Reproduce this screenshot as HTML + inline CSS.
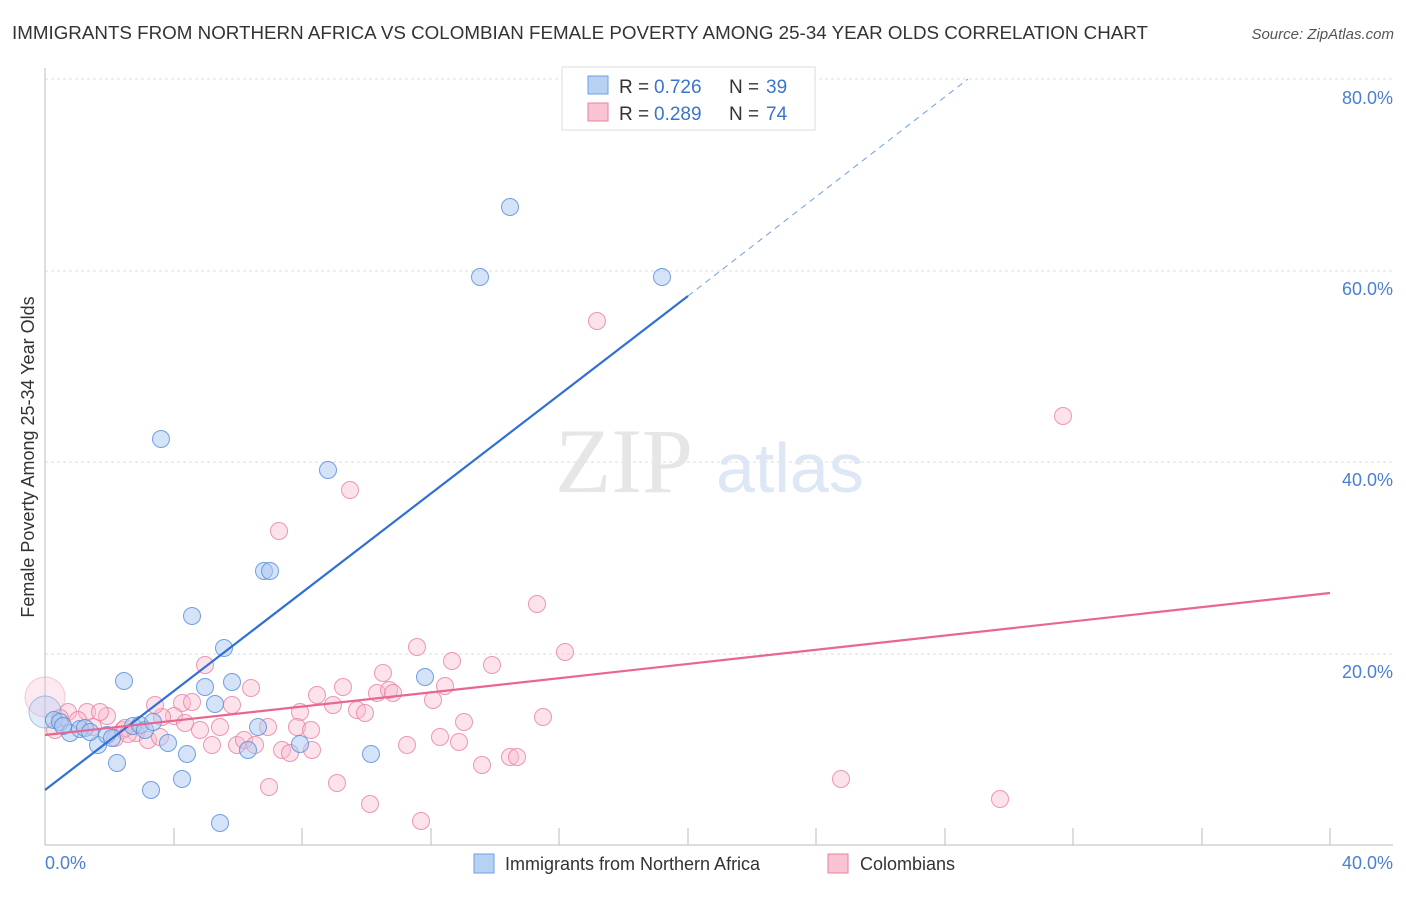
<!DOCTYPE html>
<html><head><meta charset="utf-8"><style>
body{margin:0;background:#fff;width:1406px;height:892px;overflow:hidden;font-family:"Liberation Sans",sans-serif}
</style></head><body>
<svg width="1406" height="892" xmlns="http://www.w3.org/2000/svg" font-family="Liberation Sans, sans-serif">
<text x="12" y="39" font-size="18" fill="#333" textLength="1136" lengthAdjust="spacingAndGlyphs">IMMIGRANTS FROM NORTHERN AFRICA VS COLOMBIAN FEMALE POVERTY AMONG 25-34 YEAR OLDS CORRELATION CHART</text>
<text x="1394" y="39" font-size="15" fill="#555" font-style="italic" text-anchor="end">Source: ZipAtlas.com</text>
<g stroke="#ddd" stroke-dasharray="3,3"><line x1="45" y1="79" x2="1393" y2="79"/><line x1="45" y1="271" x2="1393" y2="271"/><line x1="45" y1="462" x2="1393" y2="462"/><line x1="45" y1="654" x2="1393" y2="654"/></g>
<g stroke="#bbb"><line x1="45" y1="68" x2="45" y2="845"/><line x1="45" y1="845" x2="1393" y2="845"/>
<line x1="174" y1="828" x2="174" y2="845"/><line x1="302" y1="828" x2="302" y2="845"/><line x1="431" y1="828" x2="431" y2="845"/><line x1="559" y1="828" x2="559" y2="845"/><line x1="688" y1="828" x2="688" y2="845"/><line x1="816" y1="828" x2="816" y2="845"/><line x1="945" y1="828" x2="945" y2="845"/><line x1="1073" y1="828" x2="1073" y2="845"/><line x1="1202" y1="828" x2="1202" y2="845"/><line x1="1330" y1="828" x2="1330" y2="845"/></g>
<g font-size="18" fill="#4a7fd4" text-anchor="end"><text x="1393" y="104">80.0%</text><text x="1393" y="295">60.0%</text><text x="1393" y="486">40.0%</text><text x="1393" y="678">20.0%</text></g>
<text x="45" y="869" font-size="18" fill="#4a7fd4">0.0%</text><text x="1393" y="869" font-size="18" fill="#4a7fd4" text-anchor="end">40.0%</text>
<text transform="translate(34,457) rotate(-90)" font-size="18" fill="#333" text-anchor="middle">Female Poverty Among 25-34 Year Olds</text>
<text x="555" y="492" font-size="92" fill="#e6e6e6" font-family="Liberation Serif, serif">ZIP</text><text x="716" y="492" font-size="70" fill="#dde7f5">atlas</text>
<g fill="#f7b8cc" fill-opacity="0.4" stroke="#e87fa0" stroke-opacity="0.8" stroke-width="1">
<circle cx="45" cy="697" r="20" fill-opacity="0.3" stroke-opacity="0.4"/>
<circle cx="597" cy="321" r="8.5"/><circle cx="1063" cy="416" r="8.5"/><circle cx="350" cy="490" r="8.5"/><circle cx="279" cy="531" r="8.5"/><circle cx="537" cy="604" r="8.5"/><circle cx="565" cy="652" r="8.5"/><circle cx="417" cy="647" r="8.5"/><circle cx="452" cy="661" r="8.5"/><circle cx="492" cy="665" r="8.5"/><circle cx="383" cy="673" r="8.5"/><circle cx="205" cy="665" r="8.5"/><circle cx="251" cy="688" r="8.5"/><circle cx="317" cy="695" r="8.5"/><circle cx="343" cy="687" r="8.5"/><circle cx="377" cy="693" r="8.5"/><circle cx="389" cy="690" r="8.5"/><circle cx="393" cy="693" r="8.5"/><circle cx="445" cy="686" r="8.5"/><circle cx="433" cy="700" r="8.5"/><circle cx="543" cy="717" r="8.5"/><circle cx="464" cy="722" r="8.5"/><circle cx="440" cy="737" r="8.5"/><circle cx="459" cy="742" r="8.5"/><circle cx="510" cy="757" r="8.5"/><circle cx="482" cy="765" r="8.5"/><circle cx="407" cy="745" r="8.5"/><circle cx="300" cy="712" r="8.5"/><circle cx="333" cy="705" r="8.5"/><circle cx="357" cy="710" r="8.5"/><circle cx="365" cy="713" r="8.5"/><circle cx="268" cy="727" r="8.5"/><circle cx="232" cy="705" r="8.5"/><circle cx="220" cy="727" r="8.5"/><circle cx="182" cy="703" r="8.5"/><circle cx="192" cy="702" r="8.5"/><circle cx="174" cy="716" r="8.5"/><circle cx="162" cy="717" r="8.5"/><circle cx="155" cy="705" r="8.5"/><circle cx="107" cy="716" r="8.5"/><circle cx="87" cy="712" r="8.5"/><circle cx="100" cy="712" r="8.5"/><circle cx="68" cy="712" r="8.5"/><circle cx="78" cy="720" r="8.5"/><circle cx="93" cy="727" r="8.5"/><circle cx="123" cy="730" r="8.5"/><circle cx="136" cy="733" r="8.5"/><circle cx="148" cy="740" r="8.5"/><circle cx="212" cy="745" r="8.5"/><circle cx="237" cy="745" r="8.5"/><circle cx="244" cy="740" r="8.5"/><circle cx="255" cy="745" r="8.5"/><circle cx="282" cy="750" r="8.5"/><circle cx="290" cy="753" r="8.5"/><circle cx="312" cy="750" r="8.5"/><circle cx="297" cy="727" r="8.5"/><circle cx="311" cy="730" r="8.5"/><circle cx="269" cy="787" r="8.5"/><circle cx="337" cy="783" r="8.5"/><circle cx="370" cy="804" r="8.5"/><circle cx="421" cy="821" r="8.5"/><circle cx="841" cy="779" r="8.5"/><circle cx="1000" cy="799" r="8.5"/><circle cx="517" cy="757" r="8.5"/><circle cx="60" cy="718" r="8.5"/><circle cx="185" cy="723" r="8.5"/><circle cx="160" cy="737" r="8.5"/><circle cx="115" cy="738" r="8.5"/><circle cx="125" cy="728" r="8.5"/><circle cx="200" cy="730" r="8.5"/><circle cx="128" cy="734" r="8.5"/><circle cx="55" cy="730" r="8.5"/>
</g>
<g fill="#a9c8f0" fill-opacity="0.5" stroke="#5a90dc" stroke-opacity="0.85" stroke-width="1">
<circle cx="45" cy="712" r="16" fill-opacity="0.35" stroke-opacity="0.5"/>
<circle cx="510" cy="207" r="8.5"/><circle cx="480" cy="277" r="8.5"/><circle cx="662" cy="277" r="8.5"/><circle cx="161" cy="439" r="8.5"/><circle cx="328" cy="470" r="8.5"/><circle cx="264" cy="571" r="8.5"/><circle cx="270" cy="571" r="8.5"/><circle cx="192" cy="616" r="8.5"/><circle cx="224" cy="648" r="8.5"/><circle cx="124" cy="681" r="8.5"/><circle cx="205" cy="687" r="8.5"/><circle cx="232" cy="682" r="8.5"/><circle cx="215" cy="704" r="8.5"/><circle cx="258" cy="727" r="8.5"/><circle cx="425" cy="677" r="8.5"/><circle cx="300" cy="744" r="8.5"/><circle cx="371" cy="754" r="8.5"/><circle cx="248" cy="750" r="8.5"/><circle cx="187" cy="754" r="8.5"/><circle cx="168" cy="743" r="8.5"/><circle cx="117" cy="763" r="8.5"/><circle cx="182" cy="779" r="8.5"/><circle cx="151" cy="790" r="8.5"/><circle cx="220" cy="823" r="8.5"/><circle cx="54" cy="720" r="8.5"/><circle cx="60" cy="722" r="8.5"/><circle cx="70" cy="733" r="8.5"/><circle cx="80" cy="729" r="8.5"/><circle cx="85" cy="728" r="8.5"/><circle cx="98" cy="745" r="8.5"/><circle cx="107" cy="735" r="8.5"/><circle cx="112" cy="738" r="8.5"/><circle cx="133" cy="726" r="8.5"/><circle cx="140" cy="725" r="8.5"/><circle cx="145" cy="730" r="8.5"/><circle cx="153" cy="722" r="8.5"/><circle cx="63" cy="726" r="8.5"/><circle cx="90" cy="732" r="8.5"/>
</g>
<line x1="45" y1="790" x2="688" y2="296" stroke="#2f6fd6" stroke-width="2.2"/>
<line x1="688" y1="296" x2="968" y2="79" stroke="#6d9ee4" stroke-width="1" stroke-dasharray="6,5"/>
<line x1="45" y1="735" x2="1330" y2="593" stroke="#e8668f" stroke-width="2.2"/>
<rect x="562" y="67" width="253" height="63" fill="#fff" stroke="#ddd"/>
<rect x="588" y="76" width="20" height="18" fill="#b7d1f3" stroke="#6d9ee4"/>
<rect x="588" y="103" width="20" height="18" fill="#f9c3d4" stroke="#e8809f"/>
<g font-size="19" fill="#333"><text x="619" y="93">R = </text><text x="729" y="93">N = </text><text x="619" y="120">R = </text><text x="729" y="120">N = </text></g>
<g font-size="19" fill="#3a74d0"><text x="654" y="93">0.726</text><text x="766" y="93">39</text><text x="654" y="120">0.289</text><text x="766" y="120">74</text></g>
<rect x="474" y="854" width="20" height="19" fill="#b7d1f3" stroke="#6d9ee4"/>
<text x="505" y="870" font-size="18" fill="#333">Immigrants from Northern Africa</text>
<rect x="828" y="854" width="20" height="19" fill="#f9c3d4" stroke="#e8809f"/>
<text x="860" y="870" font-size="18" fill="#333">Colombians</text>
</svg>
</body></html>
